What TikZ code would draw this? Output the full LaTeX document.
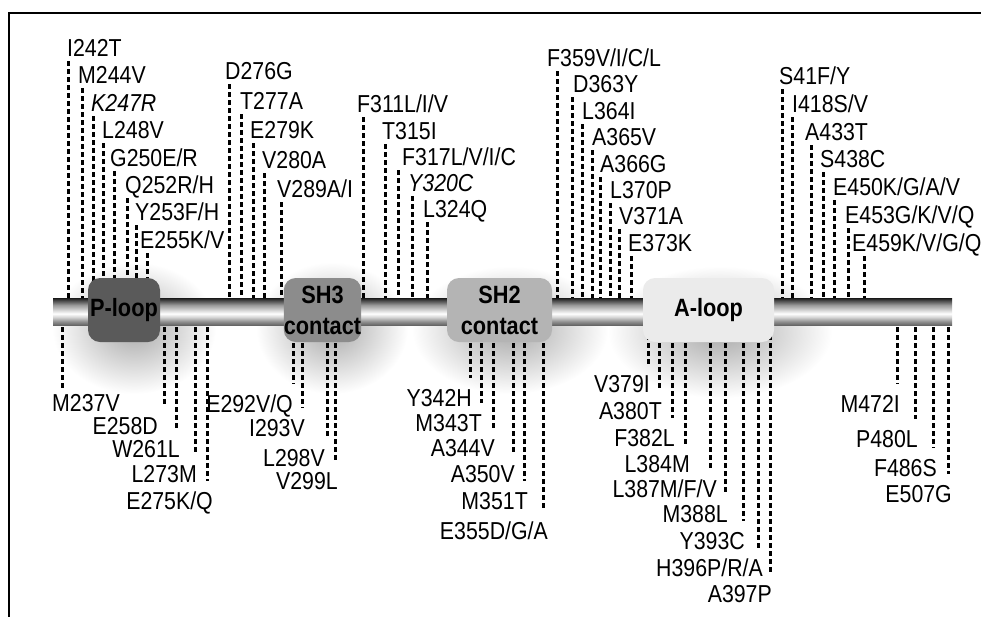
\documentclass[tikz,border=0pt]{standalone}
\usepackage{fontspec}
\setmainfont{Liberation Sans}[FakeStretch=0.87]
\usetikzlibrary{positioning}
\definecolor{ploopgray}{HTML}{5A5A5A}
\definecolor{shthreegray}{HTML}{8C8C8C}
\definecolor{shtwogray}{HTML}{B4B4B4}
\definecolor{aloopgray}{HTML}{EBEBEB}
\pgfdeclareverticalshading{tube}{100bp}{color(0bp)=(black!60); color(25bp)=(black!60); color(31bp)=(black!45); color(40bp)=(black!15); color(46bp)=(white); color(52bp)=(black!15); color(62bp)=(black!40); color(70bp)=(black!70); color(75bp)=(black!90); color(100bp)=(black!90)}
\tikzset{
mut/.style={font=\fontsize{24.5}{28}\selectfont,inner sep=0pt,text height=17.5pt,text depth=0pt},
mutline/.style={line width=3pt,dash pattern=on 4.5pt off 3.5pt},
domainbox/.style={rounded corners=12pt,inner sep=0pt,minimum height=64pt,align=center,font=\fontsize{25}{31}\selectfont\bfseries},
halo/.style={inner color=black!34,outer color=white}
}
\begin{document}
\begin{tikzpicture}[x=1pt,y=-1pt]
\useasboundingbox (0,0) rectangle (981,616);
\draw[line width=1.6pt] (9,625) -- (9,13) -- (990,13);

% soft shadows round the domains
\shade[halo] (134,328) ellipse [x radius=82,y radius=66];
\shade[halo] (332,328) ellipse [x radius=76,y radius=66];
\shade[halo] (510,330) ellipse [x radius=98,y radius=64];
\shade[halo] (720,332) ellipse [x radius=112,y radius=66];

% mutations above the bar
\foreach \lx/\tx/\ty/\txt [count=\i] in {
  68/67/47/{I242T}, 82/78/74/{M244V}, 93/91/102/{\itshape K247R}, 103/102/129/{L248V},
  114/110/157/{G250E/R}, 127/125/184/{Q252R/H}, 136/135/211/{Y253F/H}, 147/140/239/{E255K/V},
  229/225/70/{D276G}, 241/240/100/{T277A}, 253/250/129/{E279K}, 264/262/159/{V280A}, 281/277/188/{V289A/I},
  363/357/103/{F311L/I/V}, 385/382/130/{T315I}, 398/402/156/{F317L/V/I/C}, 412/408/182/{\itshape Y320C}, 427/423/208/{L324Q},
  557/547/57/{F359V/I/C/L}, 572/573/83/{D363Y}, 582/582/110/{L364I}, 592/592/136/{A365V},
  600/600/163/{A366G}, 610/610/189/{L370P}, 619/619/215/{V371A}, 631/628/242/{E373K},
  782/779/75/{S41F/Y}, 792/792/103/{I418S/V}, 811/805/131/{A433T}, 823/820/158/{S438C},
  834/833/186/{E450K/G/A/V}, 848/845/214/{E453G/K/V/Q}, 864/852/242/{E459K/V/G/Q}}{
  \node[mut,anchor=base west] (up\i) at (\tx,\ty+9) {\txt};
  \coordinate (upb\i) at (\lx,311);
  \draw[mutline,shorten <=5pt] (up\i.south -| upb\i) -- (upb\i);
}

% mutations below the bar
\node[mut,anchor=base west] (dn0) at (52,411) {M237V};
\coordinate (dnb0) at (62,311);
\draw[mutline,shorten >=5pt] (dnb0) -- (dnb0 |- dn0.north);
\foreach \lx/\rx/\ty/\txt [count=\i] in {
  164/158/425/{E258D}, 176/180/448/{W261L}, 195/197/473/{L273M}, 207/213/500/{E275K/Q},
  293/293/403/{E292V/Q}, 302/305/427/{I293V}, 327/325/457/{L298V}, 335/338/480/{V299L},
  470/472/397/{Y342H}, 481/482/422/{M343T}, 493/495/447/{A344V}, 513/515/473/{A350V},
  524/528/500/{M351T}, 543/548/530/{E355D/G/A},
  648/650/383/{V379I}, 659/662/410/{A380T}, 672/675/437/{F382L}, 685/690/463/{L384M},
  710/717/488/{L387M/F/V}, 725/728/513/{M388L}, 743/745/540/{Y393C}, 758/763/567/{H396P/R/A}, 770/772/593/{A397P},
  897/900/403/{M472I}, 915/918/438/{P480L}, 933/937/467/{F486S}, 948/952/493/{E507G}}{
  \node[mut,anchor=base east] (dn\i) at (\rx,\ty+9) {\txt};
  \coordinate (dnb\i) at (\lx,311);
  \draw[mutline,shorten >=10.5pt] (dnb\i) -- (dnb\i |- dn\i.north);
}

% the protein bar
\shade[shading=tube] (53,298) rectangle (952,325);

% domains
\node[domainbox,fill=ploopgray,minimum width=72pt] (ploop) at (124,310) {P-loop};
\node[domainbox,fill=shthreegray,minimum width=65pt] (shthree) at (322.5,310) {SH3\\contact};
\node[domainbox,fill=shtwogray,minimum width=105pt] (shtwo) at (499.5,310) {SH2\\contact};
\node[domainbox,fill=aloopgray,minimum width=131pt] (aloop) at (708.5,310) {A-loop};
\end{tikzpicture}
\end{document}
